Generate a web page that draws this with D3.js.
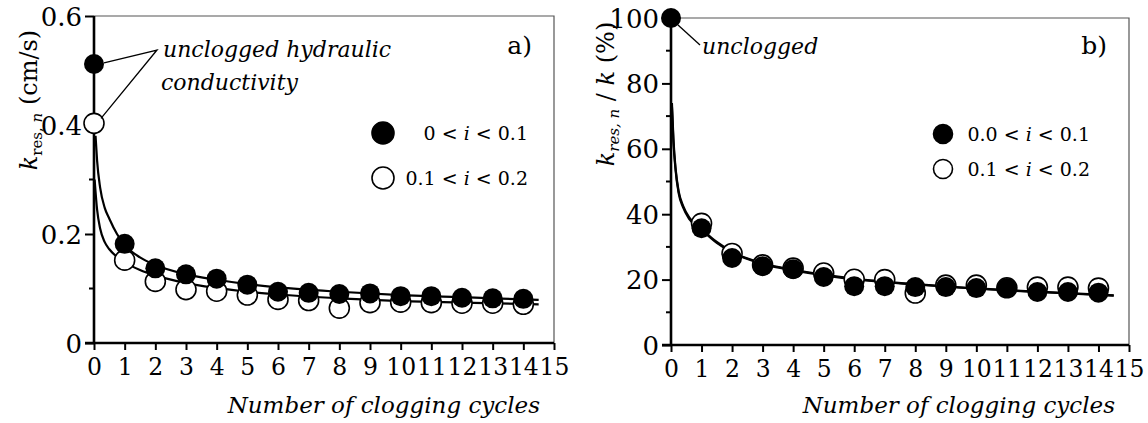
<!DOCTYPE html>
<html>
<head>
<meta charset="utf-8">
<script src="https://cdn.jsdelivr.net/npm/d3@7"></script>
<style>
	body {margin:0; background:#fff}
	svg text {font-family:"DejaVu Serif", serif; fill:#000}
</style>
</head>
<body>
<svg id="chart" width="1148" height="423"></svg>
<script>
/*** Data ***/
var cycles = [0,1,2,3,4,5,6,7,8,9,10,11,12,13,14]
var xTicks = [0,1,2,3,4,5,6,7,8,9,10,11,12,13,14,15]

// panel a) k_res,n (cm/s)
var kLow  = [0.512,0.182,0.137,0.126,0.118,0.107,0.094,0.092,0.090,0.091,0.086,0.086,0.083,0.082,0.081]
var kHigh = [0.403,0.152,0.113,0.098,0.095,0.088,0.080,0.078,0.064,0.074,0.075,0.074,0.073,0.073,0.071]
var fitLowX  = [0.05,0.1,0.2,0.35,0.5,0.75,1,1.5,2,3,4,5,6,8,10,12,14.5]
var fitLowY  = [0.380,0.335,0.285,0.248,0.228,0.200,0.180,0.157,0.143,0.126,0.116,0.108,0.102,0.094,0.088,0.084,0.079]
var fitHighX = [0.02,0.1,0.2,0.35,0.5,0.75,1,1.5,2,3,4,5,6,8,10,12,14.5]
var fitHighY = [0.300,0.245,0.210,0.185,0.172,0.158,0.148,0.134,0.124,0.110,0.101,0.094,0.089,0.082,0.077,0.074,0.071]
var yTicksA = [0,0.2,0.4,0.6]
var yMinorA = [0.1,0.3,0.5]

// panel b) k_res,n / k (%)
var pLow  = [100,35.7,26.6,24.1,23.2,20.8,18.0,18.0,17.7,17.7,17.4,17.4,16.2,16.2,16.0]
var pHigh = [null,37.2,28.0,24.5,23.5,22.0,20.1,20.0,15.9,18.3,18.3,17.5,17.7,17.7,17.4]
var fitPX  = [0.03,0.08,0.15,0.25,0.4,0.6,1,1.5,2,3,4,5,6,8,10,12,14.5]
var fitP1Y = [74,63,54,47,42.5,39,35.5,31.5,28.5,25,23,21.5,20.3,18.6,17.3,16.3,15.2]
var fitP2Y = [73,62,53.5,46.5,42,38.5,35.2,31.2,28.3,24.8,22.8,21.3,20.1,18.5,17.2,16.2,15.1]
var yTicksB = [0,20,40,60,80,100]
var yMinorB = [10,30,50,70,90]

/*** Drawing ***/
var FONT = '"DejaVu Serif", serif'
var svg = d3.select("#chart")

function txt(sel, size) {
	return sel.attr("font-family", FONT).attr("font-size", size)
}

function panel(o) {
	var x = d3.scaleLinear().domain([0,15]).range(o.xr)
	var y = d3.scaleLinear().domain(o.yd).range(o.yr)
	var g = svg.append("g")

	// thin frame (top / right)
	g.append("path")
	 .attr("d", "M"+o.xr[0]+","+o.yr[1]+"H"+o.xr[1]+"V"+o.yr[0])
	 .attr("fill", "none").attr("stroke", "#555").attr("stroke-width", 1.2)

	// x axis
	var ax = g.append("g").attr("transform", "translate(0,"+o.yr[0]+")")
	          .call(d3.axisBottom(x).tickValues(xTicks).tickSize(7).tickPadding(8).tickFormat(d3.format("d")))
	ax.attr("font-family", FONT)
	ax.select(".domain").attr("stroke-width", 2.6).attr("d", "M"+(o.xr[0]-9)+",0H"+o.xr[1])
	ax.selectAll(".tick line").attr("stroke-width", 2)
	txt(ax.selectAll(".tick text"), 23.5)

	// y axis
	var ay = g.append("g").attr("transform", "translate("+o.xr[0]+",0)")
	          .call(d3.axisLeft(y).tickValues(o.yt).tickSize(9).tickPadding(3).tickFormat(o.fmt))
	ay.attr("font-family", FONT)
	ay.select(".domain").attr("stroke-width", 2.6).attr("d", "M0,"+(o.yr[0]+1)+"V"+o.yr[1])
	ay.selectAll(".tick line").attr("stroke-width", 2)
	txt(ay.selectAll(".tick text"), 26).attr("dy", "0.35em")
	g.append("g").selectAll("line").data(o.ym).join("line")
	 .attr("x1", o.xr[0]-5).attr("x2", o.xr[0]).attr("y1", d => y(d)).attr("y2", d => y(d))
	 .attr("stroke", "#000").attr("stroke-width", 2)

	// fitted curves
	var ln = d3.line().x(d => x(d[0])).y(d => y(d[1])).curve(d3.curveMonotoneX)
	o.fits.forEach(f => {
		g.append("path").datum(d3.zip(f[0], f[1])).attr("d", ln)
		 .attr("fill", "none").attr("stroke", "#000").attr("stroke-width", 2.2)
	})

	// markers: open below, filled on top
	var open = cycles.map((c,i) => [c, o.open[i]]).filter(d => d[1] != null)
	var full = cycles.map((c,i) => [c, o.full[i]])
	var mk = g.append("g")
	mk.selectAll(".o").data(open).join("circle").attr("class","o")
	  .attr("cx", d => x(d[0])).attr("cy", d => y(d[1])).attr("r", 10)
	  .attr("fill", "#fff").attr("stroke", "#000").attr("stroke-width", 1.6)
	mk.selectAll(".f").data(full).join("circle").attr("class","f")
	  .attr("cx", d => x(d[0])).attr("cy", d => y(d[1])).attr("r", 10).attr("fill", "#000")

	// x title
	txt(g.append("text"), 23).attr("x", o.xr[1]-14).attr("y", 413).attr("text-anchor", "end")
	 .attr("font-style", "italic").text("Number of clogging cycles")

	// panel label
	txt(g.append("text"), 25).attr("x", o.xr[1]-22).attr("y", 54).attr("text-anchor", "end").text(o.tag)

	// legend
	o.leg.forEach((l,i) => {
		var ly = o.legY + i*o.legDy
		g.append("circle").attr("cx", o.legX).attr("cy", ly).attr("r", o.legR)
		 .attr("fill", l[0] ? "#000" : "#fff").attr("stroke", "#000").attr("stroke-width", 1.6)
		var t = txt(g.append("text"), 19).attr("x", o.legTx).attr("y", ly+7).attr("text-anchor", "end")
		t.append("tspan").text(l[1] + " < ")
		t.append("tspan").attr("font-style", "italic").text("i")
		t.append("tspan").text(" < " + l[2])
	})
	return {x:x, y:y, g:g}
}

var A = panel({
	xr:[94,554], yr:[343,16], yd:[0,0.6], yt:yTicksA, ym:yMinorA, fmt:d => d == 0 ? "0" : d3.format(".1f")(d),
	fits:[[fitLowX,fitLowY],[fitHighX,fitHighY]], full:kLow, open:kHigh,
	tag:"a)", leg:[[1,"0","0.1"],[0,"0.1","0.2"]], legX:383, legY:133, legDy:45, legR:11, legTx:528
})
var B = panel({
	xr:[671,1129], yr:[345,18], yd:[0,100], yt:yTicksB, ym:yMinorB, fmt:d3.format("d"),
	fits:[[fitPX,fitP1Y],[fitPX,fitP2Y]], full:pLow, open:pHigh,
	tag:"b)", leg:[[1,"0.0","0.1"],[0,"0.1","0.2"]], legX:943, legY:134, legDy:35, legR:9.5, legTx:1090
})

// y titles
var ta = txt(svg.append("text"), 24).attr("transform", "translate(37,100) rotate(-90)").attr("text-anchor", "middle")
ta.append("tspan").attr("font-style", "italic").text("k")
ta.append("tspan").attr("font-size", 15).attr("dy", 5).text("res, ")
ta.append("tspan").attr("font-size", 15).attr("font-style", "italic").text("n")
ta.append("tspan").attr("dy", -5).text(" (cm/s)")

var tb = txt(svg.append("text"), 24).attr("transform", "translate(614,94) rotate(-90)").attr("text-anchor", "middle")
tb.append("tspan").attr("font-style", "italic").text("k")
tb.append("tspan").attr("font-size", 15).attr("dy", 5).attr("font-style", "italic").text("res, n")
tb.append("tspan").attr("dy", -5).text(" / ")
tb.append("tspan").attr("font-style", "italic").text("k")
tb.append("tspan").text(" (%)")

// annotations
var an = A.g.append("g")
an.append("path")
  .attr("d", "M"+(A.x(0)+10)+","+(A.y(kLow[0])-1)+"L157,50L"+(A.x(0)+7)+","+(A.y(kHigh[0])-5))
  .attr("fill", "none").attr("stroke", "#000").attr("stroke-width", 1.3)
var at = txt(an.append("text"), 22).attr("font-style", "italic")
at.append("tspan").attr("x", 163).attr("y", 57).text("unclogged hydraulic")
at.append("tspan").attr("x", 161).attr("y", 90).text("conductivity")

B.g.append("path")
 .attr("d", "M"+(B.x(0)+7)+","+(B.y(100)+7)+"L700,45")
 .attr("fill", "none").attr("stroke", "#000").attr("stroke-width", 1.3)
txt(B.g.append("text"), 22).attr("x", 702).attr("y", 54).attr("font-style", "italic").text("unclogged")
</script>
</body>
</html>
